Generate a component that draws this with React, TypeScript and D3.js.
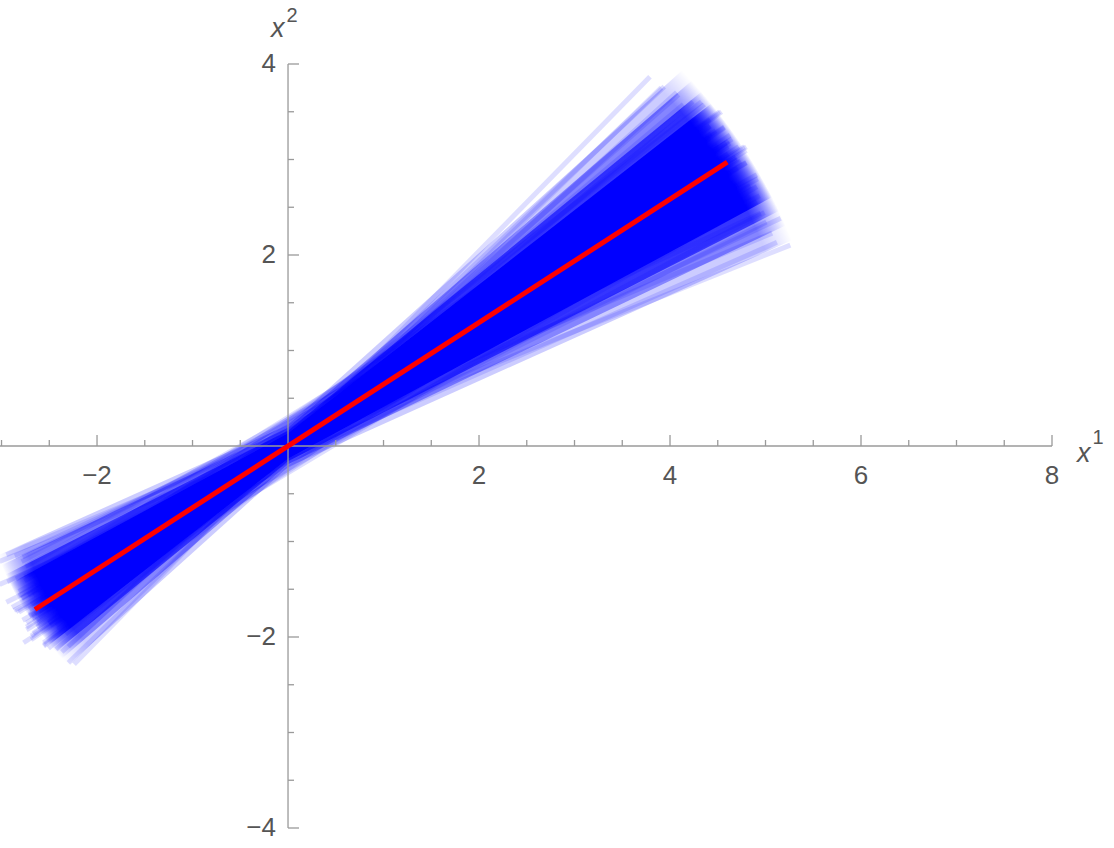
import React, { useEffect, useRef } from "react";
import * as d3 from "d3";

const width = 1114;
const height = 848;

// sampled lines y = intercept + slope * x, drawn from xFrom to xTo
const slopes = [
  0.40, 0.42, 0.44, 0.46, 0.47, 0.49, 0.50, 0.51, 0.52, 0.53,
  0.54, 0.55, 0.55, 0.56, 0.57, 0.57, 0.58, 0.58, 0.59, 0.59,
  0.60, 0.60, 0.61, 0.61, 0.62, 0.62, 0.62, 0.63, 0.63, 0.63,
  0.64, 0.64, 0.64, 0.65, 0.65, 0.65, 0.66, 0.66, 0.66, 0.67,
  0.67, 0.67, 0.68, 0.68, 0.69, 0.69, 0.70, 0.70, 0.71, 0.71,
  0.72, 0.72, 0.73, 0.74, 0.74, 0.75, 0.76, 0.77, 0.78, 0.79,
  0.80, 0.82, 0.84, 0.86, 0.88, 0.91, 0.94, 0.97, 1.02,
];
const intercepts = [
  0.00, 0.10, -0.12, 0.16, -0.04, 0.20, -0.16, 0.06, 0.24, -0.20,
  0.00, 0.14, -0.10, 0.28, -0.24, 0.04, 0.18, -0.08, 0.26, -0.18,
  0.08, -0.28, 0.22, -0.02, 0.12, -0.14, 0.30, 0.00, -0.22, 0.16,
  0.06, -0.10, 0.24, -0.04, 0.14, -0.26, 0.02, 0.20, -0.16, 0.10,
  -0.06, 0.28, -0.20, 0.04, 0.18, -0.12, 0.00, 0.26, -0.08, 0.12,
  -0.24, 0.08, 0.20, -0.04, 0.14, -0.14, 0.06, 0.22, -0.10, 0.04,
  0.14, -0.06, 0.10, -0.04, 0.08, 0.00, 0.06, -0.04, 0.00,
];
const xFrom = [
  -3.02, -2.95, -3.02, -2.86, -2.94, -2.78, -2.95, -2.85, -2.79, -2.87,
  -2.82, -2.72, -2.89, -2.75, -2.78, -2.82, -2.68, -2.85, -2.76, -2.71,
  -2.79, -2.74, -2.65, -2.82, -2.72, -2.68, -2.76, -2.71, -2.62, -2.79,
  -2.69, -2.74, -2.65, -2.68, -2.60, -2.77, -2.71, -2.67, -2.63, -2.66,
  -2.74, -2.58, -2.69, -2.65, -2.59, -2.67, -2.62, -2.54, -2.69, -2.61,
  -2.56, -2.64, -2.59, -2.49, -2.61, -2.56, -2.51, -2.53, -2.56, -2.43,
  -2.50, -2.51, -2.41, -2.43, -2.33, -2.37, -2.30, -2.30, -2.24,
];
const xTo = [
  5.26, 5.07, 5.12, 4.95, 5.16, 4.94, 5.01, 4.81, 4.92, 4.99,
  4.84, 4.91, 4.77, 4.80, 4.91, 4.69, 4.80, 4.84, 4.69, 4.91,
  4.71, 4.76, 4.78, 4.61, 4.80, 4.68, 4.63, 4.74, 4.70, 4.53,
  4.80, 4.63, 4.59, 4.69, 4.61, 4.53, 4.72, 4.63, 4.55, 4.65,
  4.45, 4.57, 4.71, 4.51, 4.57, 4.61, 4.50, 4.42, 4.61, 4.48,
  4.51, 4.43, 4.52, 4.42, 4.54, 4.32, 4.42, 4.36, 4.42, 4.28,
  4.33, 4.25, 4.14, 4.24, 4.09, 4.07, 3.94, 3.91, 3.79,
];

// where the sampled lines pile up: slope range and spread at x = 0
const bandSlopeLow = [0.45, 0.48, 0.51, 0.54];
const bandSlopeHigh = [0.90, 0.86, 0.82, 0.78];
const bandWaist = [0.22, 0.19, 0.16, 0.13];
// distance from the origin where the pile thins out (forward, backward)
const reachForward = [5.4, 5.7];
const reachBack = [2.95, 3.25];

// fitted line
const redSlope = 0.646;
const redIntercept = 0;
const redFrom = -2.65;
const redTo = 4.6;

const xMajor = [-2, 2, 4, 6, 8];
const yMajor = [-4, -2, 2, 4];

const bandOpacity = [0.2, 0.35, 0.6, 1];

function App() {
  const ref = useRef(null);

  useEffect(() => {
    const svg = d3.select(ref.current);
    svg.selectAll("*").remove();

    const x = d3.scaleLinear().domain([-3.016, 8]).range([0, 1052]);
    const y = d3.scaleLinear().domain([-4, 4]).range([828, 64]);
    const unit = x(1) - x(0);

    const defs = svg.append("defs");
    const fade = (id, r0, r1) => {
      const g = defs.append("radialGradient")
        .attr("id", id)
        .attr("gradientUnits", "userSpaceOnUse")
        .attr("cx", x(0))
        .attr("cy", y(0))
        .attr("r", r1 * unit);
      g.append("stop").attr("offset", r0 / r1).attr("stop-color", "#0000ff").attr("stop-opacity", 1);
      g.append("stop").attr("offset", 1).attr("stop-color", "#0000ff").attr("stop-opacity", 0);
    };
    fade("fade-up", reachForward[0], reachForward[1]);
    fade("fade-down", reachBack[0], reachBack[1]);

    // end of a line with slope s and intercept b at distance r along it
    const end = (s, b, r) => {
      const cx = r / Math.sqrt(1 + s * s);
      return [cx, b + s * cx];
    };

    const up = reachForward[1] + 0.3;
    const back = reachBack[1] + 0.3;
    const upper = bandSlopeLow.map((lo, i) => {
      const hi = bandSlopeHigh[i], w = bandWaist[i];
      return [[0, -w], end(lo, -w, up), end((lo + hi) / 2, 0, up + 0.2), end(hi, w, up), [0, w]];
    });
    const lower = bandSlopeLow.map((lo, i) => {
      const hi = bandSlopeHigh[i], w = bandWaist[i];
      return [[0, w], end(lo, w, -back), end((lo + hi) / 2, 0, -back - 0.2), end(hi, -w, -back), [0, -w]];
    });

    const area = d3.line().x(d => x(d[0])).y(d => y(d[1]));

    const bandG = svg.append("g");
    bandG.selectAll(".up")
      .data(upper)
      .enter()
      .append("path")
      .attr("d", d => area(d) + "Z")
      .attr("fill", "url(#fade-up)")
      .attr("fill-opacity", (d, i) => bandOpacity[i]);
    bandG.selectAll(".down")
      .data(lower)
      .enter()
      .append("path")
      .attr("d", d => area(d) + "Z")
      .attr("fill", "url(#fade-down)")
      .attr("fill-opacity", (d, i) => bandOpacity[i]);

    const segs = slopes.map((m, i) => ({
      x1: xFrom[i], y1: intercepts[i] + m * xFrom[i],
      x2: xTo[i], y2: intercepts[i] + m * xTo[i],
    }));

    svg.append("g")
      .selectAll("line")
      .data(segs)
      .enter()
      .append("line")
      .attr("x1", d => x(d.x1))
      .attr("y1", d => y(d.y1))
      .attr("x2", d => x(d.x2))
      .attr("y2", d => y(d.y2))
      .attr("stroke", "#0000ff")
      .attr("stroke-opacity", 0.13)
      .attr("stroke-width", 5);

    // axes
    const axisColor = "#9a9a9a";
    const ax = svg.append("g").attr("stroke", axisColor).attr("stroke-width", 1.3);
    ax.append("line").attr("x1", x(-3.016)).attr("x2", x(8)).attr("y1", y(0)).attr("y2", y(0));
    ax.append("line").attr("x1", x(0)).attr("x2", x(0)).attr("y1", y(4)).attr("y2", y(-4));

    const xMinor = d3.range(-3, 8.01, 0.5).filter(v => v !== 0 && !xMajor.includes(v));
    const yMinor = d3.range(-4, 4.01, 0.5).filter(v => v !== 0 && !yMajor.includes(v));

    ax.selectAll(".xt")
      .data([...xMajor.map(v => [v, 11]), ...xMinor.map(v => [v, 6])])
      .enter()
      .append("line")
      .attr("x1", d => x(d[0])).attr("x2", d => x(d[0]))
      .attr("y1", y(0)).attr("y2", d => y(0) - d[1]);

    ax.selectAll(".yt")
      .data([...yMajor.map(v => [v, 11]), ...yMinor.map(v => [v, 6])])
      .enter()
      .append("line")
      .attr("y1", d => y(d[0])).attr("y2", d => y(d[0]))
      .attr("x1", x(0)).attr("x2", d => x(0) + d[1]);

    // red line
    svg.append("line")
      .attr("x1", x(redFrom))
      .attr("y1", y(redIntercept + redSlope * redFrom))
      .attr("x2", x(redTo))
      .attr("y2", y(redIntercept + redSlope * redTo))
      .attr("stroke", "#ff0000")
      .attr("stroke-width", 5);

    const font = "'Liberation Sans', Arial, sans-serif";
    const labelColor = "#555555";
    const fmt = v => (v < 0 ? "\u2212" + Math.abs(v) : String(v));

    svg.append("g")
      .selectAll("text")
      .data(xMajor)
      .enter()
      .append("text")
      .attr("x", d => x(d))
      .attr("y", y(0) + 38)
      .attr("text-anchor", "middle")
      .attr("font-family", font)
      .attr("font-size", 26)
      .attr("fill", labelColor)
      .text(fmt);

    svg.append("g")
      .selectAll("text")
      .data(yMajor)
      .enter()
      .append("text")
      .attr("x", x(0) - 12)
      .attr("y", d => y(d) + 8)
      .attr("text-anchor", "end")
      .attr("font-family", font)
      .attr("font-size", 26)
      .attr("fill", labelColor)
      .text(fmt);

    // axis names
    const xl = svg.append("text")
      .attr("x", 1077)
      .attr("y", 462)
      .attr("font-family", font)
      .attr("fill", labelColor);
    xl.append("tspan").attr("font-style", "italic").attr("font-size", 27).text("x");
    xl.append("tspan").attr("font-size", 20).attr("dx", 2).attr("dy", -18).text("1");

    const yl = svg.append("text")
      .attr("x", 271)
      .attr("y", 37)
      .attr("font-family", font)
      .attr("fill", labelColor);
    yl.append("tspan").attr("font-style", "italic").attr("font-size", 27).text("x");
    yl.append("tspan").attr("font-size", 20).attr("dx", 2).attr("dy", -15).text("2");
  }, []);

  return (
    <svg
      ref={ref}
      width={width}
      height={height}
      style={{ position: "absolute", left: 0, top: 0, background: "#fff" }}
    />
  );
}

export default App;
